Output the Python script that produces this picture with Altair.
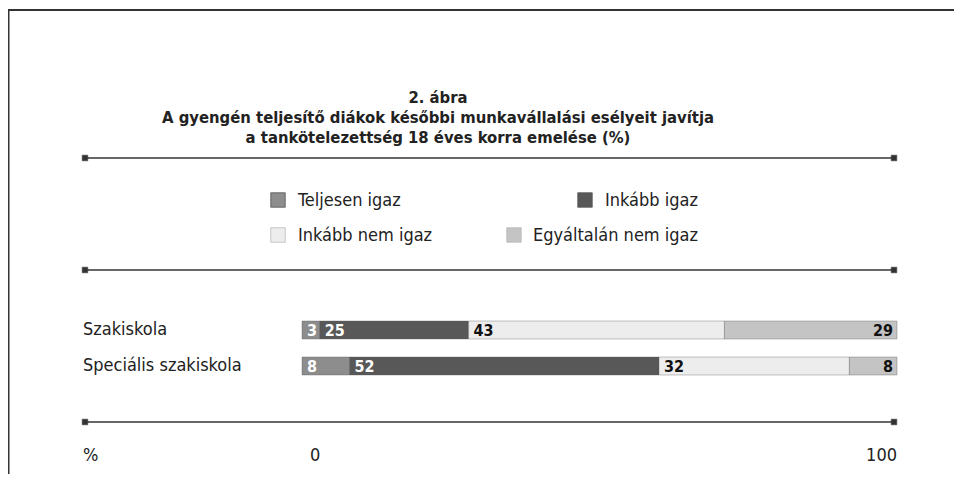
import altair as alt
import pandas as pd

# ---- data ----
schools = ["Szakiskola", "Speciális szakiskola"]
answers = ["Teljesen igaz", "Inkább igaz", "Inkább nem igaz", "Egyáltalán nem igaz"]
values_szak = [3, 25, 43, 29]
values_spec = [8, 52, 32, 8]
colors = ["#8d8d8d", "#585858", "#ededed", "#c4c4c4"]
label_colors = ["white", "white", "#111111", "#111111"]
title_lines = [
    "2. ábra",
    "A gyengén teljesítő diákok későbbi munkavállalási esélyeit javítja",
    "a tankötelezettség 18 éves korra emelése (%)",
]
tick_values = [0, 100]

FONT = "DejaVu Sans Condensed, Liberation Sans Narrow, sans-serif"

rows = []
for school, vals in zip(schools, [values_szak, values_spec]):
    cum = 0
    for i, (ans, v) in enumerate(zip(answers, vals)):
        rows.append({
            "school": school, "answer": ans, "value": v,
            "start": cum, "end": cum + v, "order": i,
            "lab_pos": (cum + v) if i == 3 else cum,
            "last": i == 3, "lcolor": label_colors[i],
        })
        cum += v
df = pd.DataFrame(rows)

xscale = alt.Scale(domain=[0, 100], range=[294, 889], nice=False, zero=False)
yscale = alt.Scale(domain=schools, range=[304, 376], paddingInner=0, paddingOuter=0)
cscale = alt.Scale(domain=answers, range=colors)

base = alt.Chart(df)

bars = base.mark_bar(size=18, stroke="#555555", strokeWidth=0.6, strokeOpacity=0.6).encode(
    x=alt.X("start:Q", scale=xscale, axis=None),
    x2="end:Q",
    y=alt.Y("school:N", scale=yscale, axis=None, sort=schools),
    color=alt.Color("answer:N", scale=cscale, legend=None),
)

lab_left = base.transform_filter("!datum.last").mark_text(
    align="left", baseline="middle", dx=5, dy=1, font=FONT, fontSize=16, fontWeight="bold"
).encode(
    x=alt.X("lab_pos:Q", scale=xscale, axis=None),
    y=alt.Y("school:N", scale=yscale, axis=None, sort=schools),
    text="value:Q",
    color=alt.Color("lcolor:N", scale=None),
)
lab_right = base.transform_filter("datum.last").mark_text(
    align="right", baseline="middle", dx=-4, dy=1, font=FONT, fontSize=16, fontWeight="bold"
).encode(
    x=alt.X("lab_pos:Q", scale=xscale, axis=None),
    y=alt.Y("school:N", scale=yscale, axis=None, sort=schools),
    text="value:Q",
    color=alt.Color("lcolor:N", scale=None),
)

cat_df = pd.DataFrame({"school": schools})
cat_labels = alt.Chart(cat_df).mark_text(
    align="left", baseline="middle", font=FONT, fontSize=18, color="#222222"
).encode(
    x=alt.value(75),
    y=alt.Y("school:N", scale=yscale, axis=None, sort=schools),
    text="school:N",
)

tick_df = pd.DataFrame({"t": tick_values, "lab": [str(t) for t in tick_values]})
tick0 = alt.Chart(tick_df).transform_filter("datum.t == 0").mark_text(
    align="left", baseline="middle", dx=8, font=FONT, fontSize=18, color="#222222"
).encode(x=alt.X("t:Q", scale=xscale, axis=None), y=alt.value(448), text="lab:N")
tick100 = alt.Chart(tick_df).transform_filter("datum.t == 100").mark_text(
    align="right", baseline="middle", font=FONT, fontSize=18, color="#222222"
).encode(x=alt.X("t:Q", scale=xscale, axis=None), y=alt.value(448), text="lab:N")

one = alt.Data(values=[{}])

def txt(s, x, y, size=18, weight="normal", align="left"):
    return alt.Chart(one).mark_text(
        text=s, align=align, baseline="middle", font=FONT, fontSize=size,
        fontWeight=weight, color="#222222"
    ).encode(x=alt.value(x), y=alt.value(y))

def hline(x1, x2, y, w=1.5, color="#333333"):
    return alt.Chart(one).mark_rule(strokeWidth=w, color=color).encode(
        x=alt.value(x1), x2=alt.value(x2), y=alt.value(y))

def vline(x, y1, y2, w=1.5, color="#333333"):
    return alt.Chart(one).mark_rule(strokeWidth=w, color=color).encode(
        x=alt.value(x), y=alt.value(y1), y2=alt.value(y2))

def sq(x, y, size, fill, stroke="#444444"):
    return alt.Chart(one).mark_square(size=size, fill=fill, stroke=stroke,
                                      strokeWidth=0.8, opacity=1).encode(
        x=alt.value(x), y=alt.value(y))

layers = []
# frame
layers.append(hline(0, 946, 2, w=2))
layers.append(vline(0.5, 2, 466, w=2))
# title
layers.append(txt(title_lines[0], 430, 90, size=16.5, weight="bold", align="center"))
layers.append(txt(title_lines[1], 430, 110, size=16.5, weight="bold", align="center"))
layers.append(txt(title_lines[2], 430, 130, size=16.5, weight="bold", align="center"))
# separator rules with end markers
for yy in [150, 262, 414]:
    layers.append(hline(77, 886, yy, w=1.5))
    layers.append(sq(77, yy, 30, "#333333"))
    layers.append(sq(886, yy, 30, "#333333"))
# legend
leg = [
    (answers[0], colors[0], 270, 192, 290),
    (answers[1], colors[1], 577, 192, 597),
    (answers[2], colors[2], 270, 227, 290),
    (answers[3], colors[3], 506, 227, 525),
]
for name, col, sx, sy, tx in leg:
    layers.append(sq(sx, sy, 210, col, stroke="#bbbbbb" if col in ("#ededed", "#c4c4c4") else "#555555"))
    layers.append(txt(name, tx, sy + 1))
# % label
layers.append(txt("%", 75, 448))

chart = alt.layer(
    *layers, bars, lab_left, lab_right, cat_labels, tick0, tick100
).properties(
    width=946, height=466,
    autosize=alt.AutoSizeParams(type="none"),
    padding=0,
    background="white",
).configure_view(stroke=None)

chart.save("out.html", embed_options={"renderer": "svg", "actions": False})
